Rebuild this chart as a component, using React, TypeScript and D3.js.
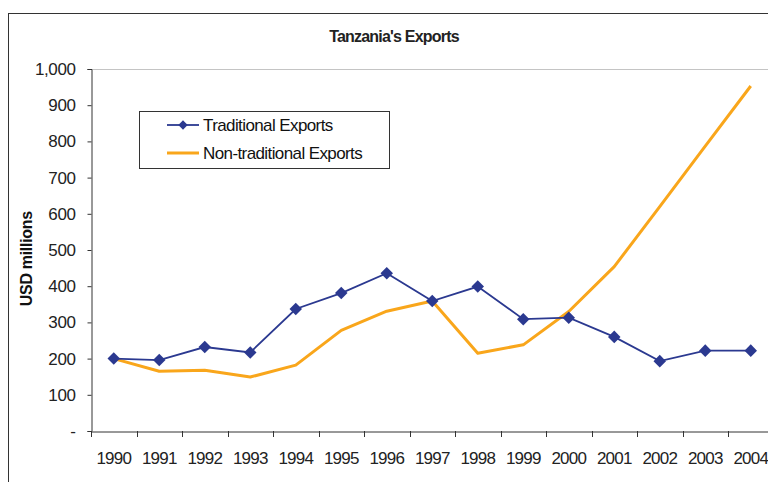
import React, { useEffect, useRef } from 'react';
import * as d3 from 'd3';

const years = ['1990', '1991', '1992', '1993', '1994', '1995', '1996', '1997', '1998', '1999', '2000', '2001', '2002', '2003', '2004'];
const traditional = [200, 196, 232, 217, 337, 381, 436, 359, 399, 309, 313, 260, 193, 222, 222];
const nonTraditional = [200, 165, 168, 149, 182, 278, 331, 359, 215, 238, 330, 454, 620, 787, 953];
const yTicks = [0, 100, 200, 300, 400, 500, 600, 700, 800, 900, 1000];
const legendLabels = ['Traditional Exports', 'Non-traditional Exports'];

const NAVY = '#2b3990';
const ORANGE = '#f9a61b';
const FONT = 'Arial, "Liberation Sans", sans-serif';

const App: React.FC = () => {
  const svgRef = useRef<SVGSVGElement>(null);

  useEffect(() => {
    if (!svgRef.current) return;
    const svg = d3.select(svgRef.current);
    svg.selectAll('*').remove();

    const left = 91, right = 773.5, top = 69, bottom = 431;

    const x = d3.scaleBand<string>().domain(years).range([left, right]).padding(0);
    const y = d3.scaleLinear().domain([0, 1000]).range([bottom, top]);
    const cx = (yr: string) => (x(yr) || 0) + x.bandwidth() / 2;

    // outer chart border
    svg.append('rect')
      .attr('x', 8.5).attr('y', 13.5)
      .attr('width', 800).attr('height', 520)
      .attr('fill', 'white')
      .attr('stroke', '#333').attr('stroke-width', 1);

    // title
    svg.append('text')
      .attr('x', 394).attr('y', 42)
      .attr('text-anchor', 'middle')
      .style('font-family', FONT).style('font-size', '16px').style('font-weight', 'bold')
      .style('letter-spacing', '-0.8px')
      .style('fill', '#222')
      .text("Tanzania's Exports");

    // plot area top border
    svg.append('line')
      .attr('x1', left).attr('x2', 800)
      .attr('y1', top + 0.5).attr('y2', top + 0.5)
      .attr('stroke', '#c4c4c4').attr('stroke-width', 1);

    // y axis
    const yAxis = svg.append('g')
      .attr('transform', `translate(${left + 0.5},0)`)
      .call(d3.axisLeft(y).tickValues(yTicks).tickSize(4).tickPadding(12)
        .tickFormat((d) => (+d === 0 ? '-' : d3.format(',')(+d))));
    yAxis.select('.domain').attr('stroke', '#333');
    yAxis.selectAll('.tick line').attr('stroke', '#333');
    yAxis.selectAll('.tick text')
      .style('font-family', FONT).style('font-size', '17px').style('letter-spacing', '-0.4px')
      .style('fill', '#222');

    // x axis
    const xAxis = svg.append('g')
      .attr('transform', `translate(0,${bottom + 0.5})`)
      .call(d3.axisBottom(x).tickSize(0).tickPadding(20));
    xAxis.select('.domain').attr('stroke', '#333');
    xAxis.selectAll('.tick text')
      .style('font-family', FONT).style('font-size', '17px').style('letter-spacing', '-0.8px')
      .style('fill', '#222');
    svg.append('g')
      .selectAll('line')
      .data(years)
      .join('line')
      .attr('x1', (d) => Math.round(x(d) || 0) + 0.5)
      .attr('x2', (d) => Math.round(x(d) || 0) + 0.5)
      .attr('y1', bottom)
      .attr('y2', bottom + 6)
      .attr('stroke', '#333');

    // y axis title
    svg.append('text')
      .attr('transform', `translate(32,${y(476)}) rotate(-90)`)
      .attr('text-anchor', 'middle')
      .style('font-family', FONT).style('font-size', '16px').style('font-weight', 'bold')
      .style('letter-spacing', '-0.3px')
      .style('fill', '#111')
      .text('USD millions');

    const line = d3.line<number>()
      .x((_, i) => cx(years[i]))
      .y((d) => y(d));

    // non-traditional
    svg.append('path')
      .datum(nonTraditional)
      .attr('fill', 'none')
      .attr('stroke', ORANGE).attr('stroke-width', 3)
      .attr('stroke-linejoin', 'round')
      .attr('d', line);

    // traditional
    svg.append('path')
      .datum(traditional)
      .attr('fill', 'none')
      .attr('stroke', NAVY).attr('stroke-width', 1.8)
      .attr('d', line);

    const diamond = d3.symbol().type(d3.symbolDiamond2).size(100);
    svg.append('g')
      .selectAll('path')
      .data(traditional)
      .join('path')
      .attr('transform', (d, i) => `translate(${cx(years[i])},${y(d)})`)
      .attr('d', diamond)
      .attr('fill', NAVY);

    // legend
    const lg = svg.append('g');
    lg.append('rect')
      .attr('x', 139.5).attr('y', 111.5)
      .attr('width', 250).attr('height', 57)
      .attr('fill', 'white').attr('stroke', '#333');
    lg.append('line')
      .attr('x1', 167).attr('x2', 199).attr('y1', 125).attr('y2', 125)
      .attr('stroke', NAVY).attr('stroke-width', 1.8);
    lg.append('path')
      .attr('transform', 'translate(183,125)')
      .attr('d', d3.symbol().type(d3.symbolDiamond2).size(55))
      .attr('fill', NAVY);
    lg.append('line')
      .attr('x1', 167).attr('x2', 199).attr('y1', 153).attr('y2', 153)
      .attr('stroke', ORANGE).attr('stroke-width', 3);
    lg.selectAll('text')
      .data(legendLabels)
      .join('text')
      .attr('x', 203)
      .attr('y', (_, i) => 131 + i * 27.5)
      .style('font-family', FONT).style('font-size', '17px').style('letter-spacing', '-0.6px')
      .style('fill', '#111')
      .text((d) => d);
  }, []);

  return (
    <svg ref={svgRef} width={768} height={482}
      style={{ position: 'absolute', left: 0, top: 0, background: 'white' }} />
  );
};

export default App;
